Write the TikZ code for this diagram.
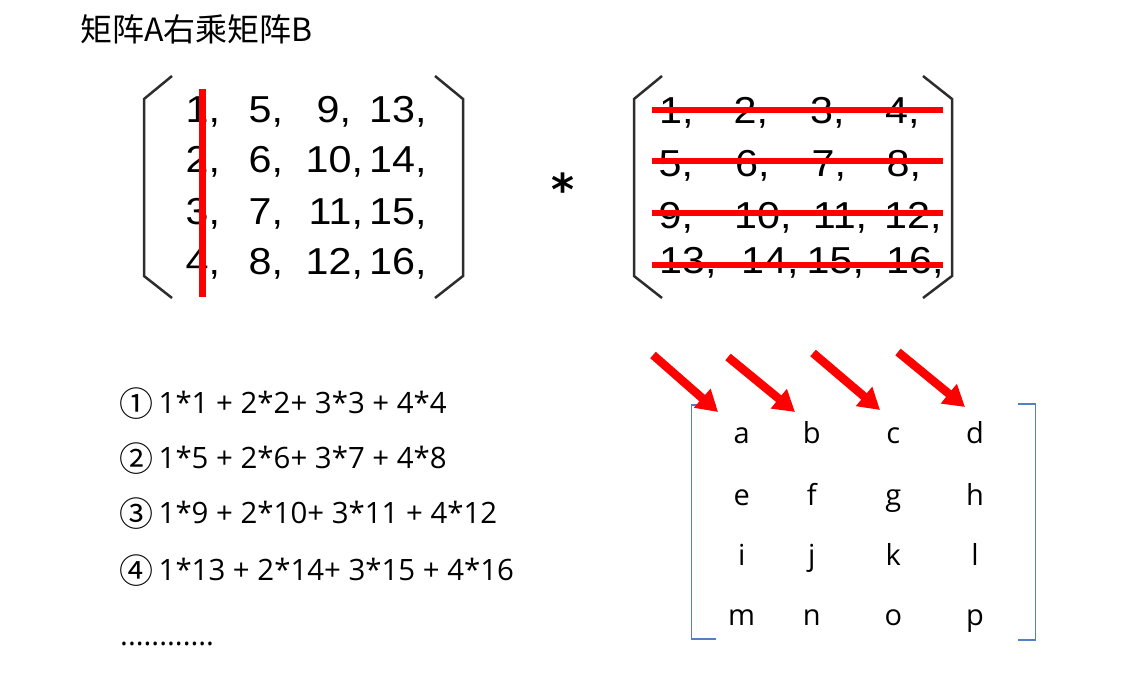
\documentclass[tikz,border=0pt]{standalone}
\usepackage{fontspec}
\usetikzlibrary{arrows.meta}
\newfontfamily\cjk{Noto Sans CJK SC}
\newfontfamily\matfont[FakeStretch=1.1]{Liberation Sans}
\newfontfamily\eqfont{Open Sans}
\newfontfamily\starfont{DejaVu Sans}
\definecolor{parcol}{RGB}{45,45,45}
\definecolor{brblue}{RGB}{84,128,192}
\definecolor{hred}{RGB}{255,0,0}
\begin{document}
\begin{tikzpicture}[x=1pt,y=-1pt,
  num/.style={anchor=base west,inner sep=0pt,font=\matfont\fontsize{37.5}{37.5}\selectfont},
  paren/.style={draw=parcol,line width=2.5pt,line join=miter},
  strike/.style={draw=hred,line width=6.5pt},
  bbr/.style={draw=brblue,line width=1.5pt},
  ent/.style={anchor=base,inner sep=0pt,font=\eqfont\fontsize{29}{29}\selectfont},
  eq/.style={anchor=base west,inner sep=0pt,font=\eqfont\fontsize{29.4}{29.4}\selectfont},
  circ/.style={anchor=center,inner sep=0pt,font=\cjk\fontsize{34}{34}\selectfont},
  redarrow/.style={draw=hred,line width=8.5pt,-{Triangle[width=24pt,length=21pt]}}]
\useasboundingbox (0,0) rectangle (1139,682);
% title
\node[anchor=base west,inner sep=0pt,font=\cjk\fontsize{32}{32}\selectfont] (title) at (80,42) {矩阵A右乘矩阵B};
% matrix A parens
\draw[paren] (172,76) -- (144,99) -- (144,276) -- (172,298);
\draw[paren] (435,76) -- (463,99) -- (463,276) -- (435,298);
% matrix A entries
\node[num] (a11) at (185.5,122) {1,};
\node[num] (a12) at (248.5,122) {5,};
\node[num] (a13) at (316.5,122) {9,};
\node[num] (a14) at (369,122) {13,};
\node[num] (a21) at (185.5,172) {2,};
\node[num] (a22) at (248.5,172) {6,};
\node[num] (a23) at (305.5,172) {10,};
\node[num] (a24) at (369,172) {14,};
\node[num] (a31) at (185.5,224) {3,};
\node[num] (a32) at (248.5,224) {7,};
\node[num] (a33) at (308.5,224) {11,};
\node[num] (a34) at (369,224) {15,};
\node[num] (a41) at (185.5,274) {4,};
\node[num] (a42) at (248.5,274) {8,};
\node[num] (a43) at (305.5,274) {12,};
\node[num] (a44) at (369,274) {16,};
\coordinate (va1) at (202.5,89);
\coordinate (va2) at (202.5,297);
\draw[strike] (va1) -- (va2);
% asterisk
\node[anchor=base,inner sep=0pt,font=\starfont\bfseries\fontsize{44}{44}\selectfont] (star) at (563,205) {*};
% matrix B parens
\draw[paren] (662,76) -- (634,99) -- (634,276) -- (662,298);
\draw[paren] (923,76) -- (952,99) -- (952,276) -- (923,298);
% matrix B entries
\node[num] (b11) at (659,124) {1,};
\node[num] (b12) at (733.4,124) {2,};
\node[num] (b13) at (810,124) {3,};
\node[num] (b14) at (885,124) {4,};
\node[num] (b21) at (658.4,176) {5,};
\node[num] (b22) at (735,176) {6,};
\node[num] (b23) at (811.4,176) {7,};
\node[num] (b24) at (886.4,176) {8,};
\node[num] (b31) at (658.4,228) {9,};
\node[num] (b32) at (734,228) {10,};
\node[num] (b33) at (812.7,228) {11,};
\node[num] (b34) at (884,228) {12,};
\node[num] (b41) at (659,273) {13,};
\node[num] (b42) at (741,273) {14,};
\node[num] (b43) at (806.5,273) {15,};
\node[num] (b44) at (886,273) {16,};
\coordinate (h1a) at (652,110); \coordinate (h1b) at (943,110);
\coordinate (h2a) at (652,161); \coordinate (h2b) at (943,161);
\coordinate (h3a) at (652,213); \coordinate (h3b) at (943,213);
\coordinate (h4a) at (652,265); \coordinate (h4b) at (943,265);
\draw[strike] (h1a) -- (h1b);
\draw[strike] (h2a) -- (h2b);
\draw[strike] (h3a) -- (h3b);
\draw[strike] (h4a) -- (h4b);
% equations
\node[circ] (c1) at (136,403.5) {①};
\node[circ] (c2) at (136,459) {②};
\node[circ] (c3) at (136,514) {③};
\node[circ] (c4) at (136,571) {④};
\node[eq] (e1) at (158.5,413.5) {1*1 + 2*2+ 3*3 + 4*4};
\node[eq] (e2) at (158.5,468) {1*5 + 2*6+ 3*7 + 4*8};
\node[eq] (e3) at (158.5,523) {1*9 + 2*10+ 3*11 + 4*12};
\node[eq] (e4) at (158.5,580) {1*13 + 2*14+ 3*15 + 4*16};
\node[eq] (dots) at (120,645) {............};
% result matrix brackets
\draw[bbr] (716,405) -- (691.5,405) -- (691.5,639) -- (716,639);
\draw[bbr] (1018,404) -- (1035.5,404) -- (1035.5,640) -- (1018,640);
% letters
\node[ent] (ra) at (741.7,443) {a};
\node[ent] (rb) at (811.7,443) {b};
\node[ent] (rc) at (893.3,443) {c};
\node[ent] (rd) at (975,443) {d};
\node[ent] (re) at (741.7,505) {e};
\node[ent] (rf) at (811.7,505) {f};
\node[ent] (rg) at (893.3,505) {g};
\node[ent] (rh) at (975,505) {h};
\node[ent] (ri) at (741.7,565) {i};
\node[ent] (rj) at (811.7,565) {j};
\node[ent] (rk) at (893.3,565) {k};
\node[ent] (rl) at (975,565) {l};
\node[ent] (rm) at (741.7,625) {m};
\node[ent] (rn) at (811.7,625) {n};
\node[ent] (ro) at (893.3,625) {o};
\node[ent] (rp) at (975,625) {p};
% arrows
\coordinate (s1) at (653,355); \coordinate (t1) at (718,412);
\coordinate (s2) at (728,357); \coordinate (t2) at (795,412);
\coordinate (s3) at (813,353); \coordinate (t3) at (880,410);
\coordinate (s4) at (898,352); \coordinate (t4) at (965,407);
\draw[redarrow] (s1) -- (t1);
\draw[redarrow] (s2) -- (t2);
\draw[redarrow] (s3) -- (t3);
\draw[redarrow] (s4) -- (t4);
\end{tikzpicture}
\end{document}
